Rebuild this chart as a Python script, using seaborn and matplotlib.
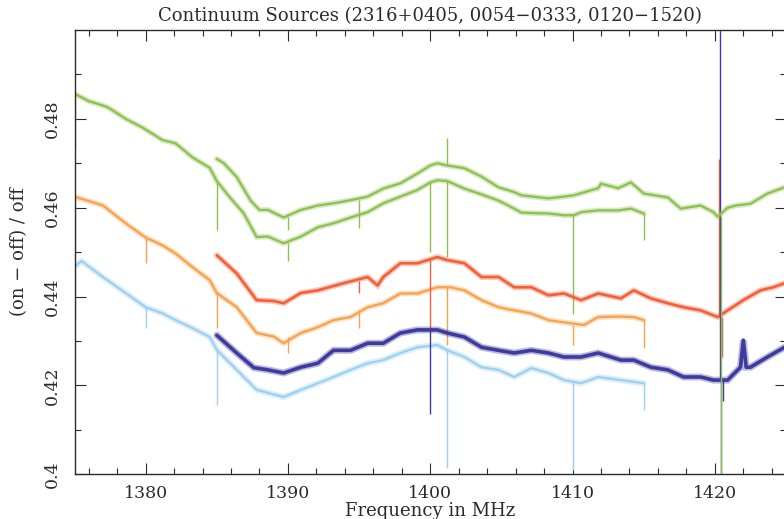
import numpy as np
import pandas as pd
import matplotlib
matplotlib.use("Agg")
import matplotlib.pyplot as plt
import seaborn as sns

# ---------------- data (MHz, (on-off)/off) ----------------
# Band A covers 1375-1415 MHz, band B covers 1385-1425 MHz
g1_freq = [1375.1, 1376.0, 1377.0, 1377.4, 1378.6, 1379.8, 1381.2, 1382.1, 1383.3, 1384.5,
           1385.0, 1385.9, 1386.9, 1387.8, 1388.6, 1389.7, 1390.9, 1392.1, 1393.2, 1394.4,
           1395.6, 1396.7, 1397.9, 1399.1, 1400.0, 1400.5, 1401.2, 1402.4, 1403.6, 1404.8,
           1405.9, 1406.4, 1407.1, 1408.3, 1409.4, 1410.1, 1410.6, 1411.8, 1413.2, 1414.1, 1415.0]
g1_val = [0.4855, 0.4840, 0.4830, 0.4825, 0.4800, 0.4780, 0.4752, 0.4745, 0.4713, 0.4690,
          0.4660, 0.4624, 0.4587, 0.4534, 0.4535, 0.4520, 0.4535, 0.4556, 0.4565, 0.4578,
          0.4590, 0.4610, 0.4625, 0.4640, 0.4657, 0.4662, 0.4660, 0.4643, 0.4630, 0.4616,
          0.4598, 0.4589, 0.4588, 0.4587, 0.4583, 0.4583, 0.4590, 0.4594, 0.4594, 0.4598, 0.4587]

g2_freq = [1385.0, 1385.5, 1386.4, 1387.4, 1388.0, 1388.6, 1389.7, 1390.9, 1392.1, 1393.2,
           1394.4, 1395.6, 1396.7, 1397.9, 1399.1, 1400.0, 1400.5, 1401.2, 1402.4, 1403.6,
           1404.8, 1405.9, 1406.4, 1408.3, 1409.4, 1410.1, 1411.8, 1412.0, 1413.2, 1414.1,
           1415.0, 1416.7, 1417.6, 1419.0, 1419.9, 1420.2, 1420.9, 1421.5, 1422.5, 1423.7, 1424.9]
g2_val = [0.4710, 0.4700, 0.4669, 0.4615, 0.4595, 0.4595, 0.4578, 0.4595, 0.4605, 0.4610,
          0.4617, 0.4625, 0.4643, 0.4655, 0.4677, 0.4695, 0.4700, 0.4695, 0.4689, 0.4670,
          0.4646, 0.4635, 0.4628, 0.4621, 0.4625, 0.4628, 0.4644, 0.4654, 0.4644, 0.4657,
          0.4632, 0.4623, 0.4598, 0.4605, 0.4590, 0.4580, 0.4600, 0.4605, 0.4609, 0.4632, 0.4646]

r_freq = [1385.0, 1386.4, 1387.8, 1389.0, 1389.7, 1390.9, 1392.1, 1393.9, 1395.6, 1396.3,
          1396.7, 1397.9, 1399.1, 1400.5, 1401.2, 1402.4, 1403.6, 1404.8, 1405.9, 1407.1,
          1408.3, 1409.4, 1410.6, 1411.8, 1413.4, 1414.3, 1415.5, 1416.7, 1417.8, 1419.0,
          1420.2, 1420.9, 1422.0, 1423.2, 1424.1, 1424.9]
r_val = [0.4493, 0.4452, 0.4392, 0.4390, 0.4385, 0.4408, 0.4414, 0.4430, 0.4444, 0.4425,
         0.4444, 0.4475, 0.4475, 0.4489, 0.4482, 0.4475, 0.4444, 0.4444, 0.4421, 0.4421,
         0.4403, 0.4407, 0.4392, 0.4407, 0.4396, 0.4414, 0.4396, 0.4385, 0.4376, 0.4369,
         0.4354, 0.4369, 0.4392, 0.4414, 0.4421, 0.4430]

o_freq = [1375.1, 1377.0, 1378.6, 1380.0, 1381.2, 1382.1, 1383.3, 1384.5, 1385.0, 1386.4,
          1387.8, 1389.0, 1389.7, 1390.9, 1392.1, 1393.2, 1394.4, 1395.6, 1396.7, 1397.9,
          1399.1, 1400.5, 1401.4, 1402.4, 1403.6, 1404.8, 1405.9, 1407.1, 1408.3, 1409.4,
          1410.8, 1411.8, 1413.2, 1414.3, 1415.0]
o_val = [0.4624, 0.4605, 0.4565, 0.4533, 0.4515, 0.4497, 0.4466, 0.4437, 0.4408, 0.4376,
         0.4318, 0.4310, 0.4295, 0.4318, 0.4331, 0.4347, 0.4354, 0.4376, 0.4385, 0.4407,
         0.4407, 0.4421, 0.4421, 0.4414, 0.4392, 0.4376, 0.4369, 0.4362, 0.4347, 0.4342,
         0.4336, 0.4354, 0.4355, 0.4354, 0.4347]

lb_freq = [1375.1, 1375.5, 1377.0, 1378.6, 1380.0, 1381.2, 1382.1, 1383.3, 1384.5, 1385.0,
           1386.4, 1387.8, 1389.7, 1390.9, 1392.1, 1393.2, 1394.4, 1395.6, 1396.7, 1397.9,
           1399.1, 1400.5, 1401.2, 1402.4, 1403.6, 1404.8, 1405.9, 1407.1, 1408.3, 1409.4,
           1410.6, 1411.8, 1413.4, 1414.3, 1415.0]
lb_val = [0.4470, 0.4480, 0.4444, 0.4408, 0.4376, 0.4362, 0.4347, 0.4329, 0.4309, 0.4280,
          0.4235, 0.4190, 0.4174, 0.4190, 0.4205, 0.4219, 0.4235, 0.4250, 0.4257, 0.4273,
          0.4286, 0.4291, 0.4279, 0.4264, 0.4241, 0.4235, 0.4219, 0.4239, 0.4228, 0.4212,
          0.4205, 0.4219, 0.4212, 0.4208, 0.4205]

db_freq = [1385.0, 1386.4, 1387.6, 1388.6, 1389.7, 1390.9, 1392.1, 1393.2, 1394.4, 1395.6,
           1396.7, 1397.9, 1399.1, 1400.5, 1401.2, 1402.4, 1403.6, 1404.8, 1405.9, 1407.1,
           1408.3, 1409.4, 1410.6, 1411.8, 1413.4, 1414.3, 1415.5, 1416.7, 1417.8, 1419.0,
           1419.9, 1420.9, 1421.8, 1422.0, 1422.2, 1422.5, 1423.7, 1424.9]
db_val = [0.4313, 0.4273, 0.4240, 0.4235, 0.4228, 0.4241, 0.4250, 0.4279, 0.4279, 0.4295,
          0.4295, 0.4318, 0.4325, 0.4325, 0.4318, 0.4309, 0.4286, 0.4279, 0.4273, 0.4279,
          0.4273, 0.4264, 0.4264, 0.4273, 0.4257, 0.4257, 0.4241, 0.4235, 0.4219, 0.4219,
          0.4212, 0.4212, 0.4241, 0.4302, 0.4241, 0.4241, 0.4264, 0.4286]

# narrow features: frequency, level beside the feature, extreme level
g1_spk_f = [1375.05, 1385.0, 1390.0, 1400.0, 1401.2, 1410.0, 1415.0]
g1_spk_b = [0.4855, 0.4660, 0.4520, 0.4657, 0.4660, 0.4583, 0.4587]
g1_spk_t = [0.4735, 0.4550, 0.4480, 0.4500, 0.4490, 0.4360, 0.4527]

g2_spk_f = [1390.0, 1395.0, 1401.2, 1420.45]
g2_spk_b = [0.4580, 0.4617, 0.4695, 0.4580]
g2_spk_t = [0.4550, 0.4555, 0.4758, 0.3900]

r_spk_f = [1395.0, 1400.0, 1420.3, 1420.5]
r_spk_b = [0.4436, 0.4482, 0.4354, 0.4354]
r_spk_t = [0.4408, 0.4330, 0.4710, 0.4265]

o_spk_f = [1375.05, 1380.0, 1385.0, 1390.0, 1395.0, 1401.2, 1410.0, 1415.0]
o_spk_b = [0.4624, 0.4533, 0.4408, 0.4310, 0.4370, 0.4421, 0.4336, 0.4347]
o_spk_t = [0.4495, 0.4475, 0.4330, 0.4273, 0.4330, 0.4290, 0.4290, 0.4284]

lb_spk_f = [1375.05, 1380.0, 1385.0, 1401.2, 1410.0, 1415.0]
lb_spk_b = [0.4470, 0.4376, 0.4280, 0.4279, 0.4210, 0.4205]
lb_spk_t = [0.4350, 0.4330, 0.4156, 0.4014, 0.4010, 0.4145]

db_spk_f = [1400.0, 1420.35, 1420.4, 1420.6]
db_spk_b = [0.4325, 0.4212, 0.4212, 0.4212]
db_spk_t = [0.4135, 0.5200, 0.3900, 0.4165]

x_ticks = [1380, 1390, 1400, 1410, 1420]
y_ticks = [0.40, 0.42, 0.44, 0.46, 0.48]
y_tick_labels = ["0.4", "0.42", "0.44", "0.46", "0.48"]

# ---------------- styling ----------------
sns.set_theme(style="ticks")
plt.rcParams["font.family"] = ["DejaVu Serif"]
ink = "#2b2b2b"

green = "#8dc050"
red = "#f2603a"
orange = "#f7a24c"
light_blue = "#9dd0f0"
dark_blue = "#3d3c9e"

W, H = 784, 519
fig = plt.figure(figsize=(W / 100, H / 100), dpi=100)
fig.patch.set_facecolor("white")
ax_l, ax_r, ax_t, ax_b = 74.5, 786.0, 30.0, 474.3
ax = fig.add_axes([ax_l / W, 1 - ax_b / H, (ax_r - ax_l) / W, (ax_b - ax_t) / H])
ax.set_facecolor("white")

# (freq, values, feature freq, feature base, feature tip, colour, core width, band width)
series = [
    (g1_freq, g1_val, g1_spk_f, g1_spk_b, g1_spk_t, green, 1.6, 4.0),
    (o_freq, o_val, o_spk_f, o_spk_b, o_spk_t, orange, 1.6, 4.0),
    (lb_freq, lb_val, lb_spk_f, lb_spk_b, lb_spk_t, light_blue, 1.6, 4.4),
    (r_freq, r_val, r_spk_f, r_spk_b, r_spk_t, red, 1.9, 4.2),
    (db_freq, db_val, db_spk_f, db_spk_b, db_spk_t, dark_blue, 2.6, 5.0),
    (g2_freq, g2_val, g2_spk_f, g2_spk_b, g2_spk_t, green, 1.6, 4.0),
]

for f, v, sf, sb, st, col, lw, band in series:
    df = pd.DataFrame({"freq": f, "ratio": v})
    # soft band for the channel-to-channel scatter, then the trace itself
    sns.lineplot(data=df, x="freq", y="ratio", ax=ax, color=col, lw=band, alpha=0.35,
                 estimator=None, sort=True, legend=False, solid_joinstyle="miter")
    sns.lineplot(data=df, x="freq", y="ratio", ax=ax, color=col, lw=lw,
                 estimator=None, sort=True, legend=False)
    ax.vlines(sf, sb, st, color=col, lw=1.0)

ax.set_xlim(1375, 1425)
ax.set_ylim(0.40, 0.50)
ax.set_xticks(x_ticks)
ax.set_xticks(np.arange(1376, 1425, 2), minor=True)
ax.set_yticks(y_ticks)
ax.set_yticklabels(y_tick_labels, rotation=90, va="center")
ax.set_yticks(np.arange(0.41, 0.50, 0.02), minor=True)
ax.tick_params(which="both", direction="in", top=True, right=True, colors=ink,
               labelsize=12.5, width=0.8)
ax.tick_params(which="major", length=8, pad=8)
ax.tick_params(which="minor", length=4)
ax.tick_params(axis="y", pad=10)
for s in ax.spines.values():
    s.set_color(ink)
    s.set_linewidth(1.0)

ax.set_xlabel("")
ax.set_ylabel("")
fig.text(430 / W, 1 - 511 / H, "Frequency in MHz", ha="center", va="center",
         fontsize=13, color=ink)
fig.text(19 / W, 1 - 252 / H, "(on − off) / off", ha="center", va="center",
         rotation=90, fontsize=13, color=ink)
fig.text(430 / W, 1 - 16 / H, "Continuum Sources (2316+0405, 0054−0333, 0120−1520)",
         ha="center", va="center", fontsize=13, color=ink)

fig.savefig("out.png", dpi=100, facecolor="white")
